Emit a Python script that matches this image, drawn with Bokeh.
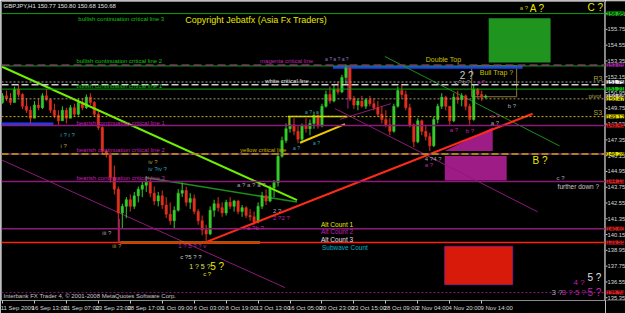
from bokeh.plotting import figure
from bokeh.layouts import row
from bokeh.models import Range1d, FixedTicker, Span, Label, ColumnDataSource
from bokeh.embed import file_html
from bokeh.resources import INLINE

# ---------------- data ----------------
bar_index = list(range(122))
opens = [150.2, 150.7, 150.5, 150.2, 151.2, 150.8, 149.9, 149.6, 149.0, 150.0,
         149.8, 150.7, 150.4, 149.6, 149.2, 148.8, 149.6, 149.0, 149.8, 149.3,
         150.2, 149.8, 150.6, 150.2, 149.3, 148.3, 146.5, 146.3, 144.5, 143.6,
         141.8, 142.3, 142.8, 142.3, 143.1, 143.6, 143.9, 144.2, 143.3, 142.7,
         143.1, 142.4, 141.7, 141.2, 142.0, 143.3, 143.5, 142.6, 142.9, 141.9,
         141.2, 140.5, 140.2, 142.0, 142.5, 142.2, 141.8, 142.6, 142.3, 142.7,
         141.9, 142.2, 141.6, 141.5, 141.1, 142.3, 143.1, 142.7, 143.7, 144.1,
         146.1, 147.3, 148.2, 148.5, 148.0, 147.4, 148.4, 148.2, 148.6, 149.2,
         148.4, 149.9, 150.8, 150.3, 151.2, 151.0, 152.1, 152.8, 150.5, 150.0,
         150.3, 149.9, 150.4, 150.1, 149.8, 149.3, 148.9, 148.5, 148.0, 149.9,
         151.1, 150.8, 149.8, 148.5, 147.2, 148.8, 148.0, 147.6, 146.9, 148.9,
         149.9, 150.6, 149.9, 148.8, 150.6, 150.4, 150.7, 149.9, 148.9, 151.2,
         150.8, 150.6]
highs = [150.9, 151.1, 150.9, 151.4, 151.6, 150.9, 150.5, 149.9, 150.3, 150.5,
         150.9, 151.2, 150.5, 150.1, 149.6, 149.9, 149.8, 150.0, 150.1, 150.5,
         150.5, 150.8, 150.9, 150.3, 149.6, 148.4, 146.6, 146.4, 145.4, 143.8,
         142.5, 143.0, 143.2, 143.4, 143.8, 144.2, 144.6, 144.4, 143.8, 143.4,
         143.5, 143.0, 142.6, 142.3, 143.6, 144.1, 143.8, 143.3, 143.2, 142.1,
         141.6, 140.9, 142.3, 142.8, 143.0, 142.6, 142.8, 143.0, 142.8, 142.8,
         142.4, 142.3, 142.1, 141.9, 142.6, 143.4, 143.6, 143.9, 144.3, 146.4,
         147.6, 148.6, 149.1, 149.0, 148.4, 148.6, 149.0, 148.9, 149.5, 149.3,
         150.1, 151.1, 151.4, 151.6, 151.8, 152.3, 153.1, 152.9, 150.7, 150.5,
         150.7, 150.5, 150.7, 150.5, 150.3, 149.9, 149.6, 149.0, 150.1, 151.4,
         151.6, 151.1, 150.1, 148.6, 149.0, 148.9, 148.5, 147.9, 149.1, 150.1,
         150.9, 150.7, 149.9, 150.9, 151.1, 150.9, 150.8, 150.1, 151.6, 151.3,
         151.1, 150.8]
lows = [150.1, 150.3, 150.0, 150.2, 150.6, 149.7, 149.4, 148.6, 149.0, 149.6,
        149.7, 150.3, 149.4, 149.0, 148.5, 148.8, 148.6, 149.0, 149.1, 149.2,
        149.6, 149.7, 150.0, 149.1, 148.1, 146.2, 146.0, 144.1, 143.2, 139.6,
        140.6, 141.4, 141.9, 142.1, 142.6, 143.0, 143.4, 143.0, 142.4, 142.3,
        142.1, 141.4, 140.9, 140.6, 141.9, 143.0, 142.3, 142.1, 141.7, 140.9,
        140.1, 139.6, 140.1, 141.5, 141.9, 141.5, 141.6, 142.1, 141.9, 141.7,
        141.5, 141.4, 141.2, 140.9, 141.0, 142.1, 142.4, 142.6, 143.0, 143.8,
        146.0, 147.1, 147.9, 147.7, 147.1, 147.1, 147.9, 147.7, 148.2, 148.2,
        148.3, 149.8, 150.1, 150.2, 150.8, 150.9, 151.6, 150.3, 149.7, 149.6,
        149.8, 149.7, 149.9, 149.6, 149.1, 148.6, 148.3, 147.7, 147.9, 149.8,
        150.5, 149.6, 148.3, 146.8, 147.1, 147.7, 147.3, 146.5, 146.8, 148.6,
        149.7, 149.6, 148.5, 148.7, 150.1, 149.9, 149.6, 148.5, 148.8, 150.5,
        150.3, 150.5]
closes = [150.7, 150.5, 150.2, 151.2, 150.8, 149.9, 149.6, 149.0, 150.0, 149.8,
          150.7, 150.4, 149.6, 149.2, 148.8, 149.6, 149.0, 149.8, 149.3, 150.2,
          149.8, 150.6, 150.2, 149.3, 148.3, 146.5, 146.3, 144.5, 143.6, 141.8,
          142.3, 142.8, 142.3, 143.1, 143.6, 143.9, 144.2, 143.3, 142.7, 143.1,
          142.4, 141.7, 141.2, 142.0, 143.3, 143.5, 142.6, 142.9, 141.9, 141.2,
          140.5, 140.2, 142.0, 142.5, 142.2, 141.8, 142.6, 142.3, 142.7, 141.9,
          142.2, 141.6, 141.5, 141.1, 142.3, 143.1, 142.7, 143.7, 144.1, 146.1,
          147.3, 148.2, 148.5, 148.0, 147.4, 148.4, 148.2, 148.6, 149.2, 148.4,
          149.9, 150.8, 150.3, 151.2, 151.0, 152.1, 152.8, 150.5, 150.0, 150.3,
          149.9, 150.4, 150.1, 149.8, 149.3, 148.9, 148.5, 148.0, 149.9, 151.1,
          150.8, 149.8, 148.5, 147.2, 148.8, 148.0, 147.6, 146.9, 148.9, 149.9,
          150.6, 149.9, 148.8, 150.6, 150.4, 150.7, 149.9, 148.9, 151.2, 150.8,
          150.6, 150.68]

time_tick_bars = [0, 8, 16, 24, 32, 40, 48, 56, 64, 72, 80, 88, 96, 104, 112, 120]
time_tick_labels = ["11 Sep 2009", "16 Sep 13:00", "21 Sep 07:00", "23 Sep 23:00",
                    "28 Sep 17:00", "1 Oct 09:00", "6 Oct 03:00", "8 Oct 19:00",
                    "13 Oct 13:00", "16 Oct 05:00", "20 Oct 23:00", "23 Oct 15:00",
                    "28 Oct 09:00", "2 Nov 04:00", "4 Nov 20:00", "9 Nov 14:00"]
price_ticks = [156.95, 155.75, 154.55, 153.35, 152.15, 150.95, 149.75, 148.55, 147.35,
               146.15, 144.95, 143.75, 142.55, 141.35, 140.15, 138.95, 137.75, 136.55, 135.35]

# horizontal levels (price)
bull_line_3 = 156.95
magenta_line = 153.05
bull_line_2 = 152.97
r3_level = 151.75
white_line = 151.55
bull_line_1 = 151.21
pivot_level = 150.47
s3_level = 149.12
bear_line_1 = 148.45
yellow_line = 146.28
bear_line_3 = 144.19
alt_line = 140.60
red_line = 139.55
bottom_line = 135.74
last_price = 150.68

# trendlines (bar index, price)
lime_trend_x = [-0.25, 73.75]; lime_trend_p = [152.93, 142.77]
green_low_x = [35.75, 73.75]; green_low_p = [144.49, 142.62]
green_top_x = [95.75, 139.5]; green_top_p = [153.69, 146.89]
red_trend_x = [51.25, 132.75]; red_trend_p = [139.62, 149.34]
purple_a_x = [-0.25, 70.75]; purple_a_p = [145.83, 136.12]
purple_b_x = [83.25, 134.0]; purple_b_p = [149.73, 141.88]
purple_c_x = [84.5, 97.25]; purple_c_p = [148.91, 150.10]
mag_vert_x = [86.5, 86.5]; mag_vert_p = [153.05, 149.73]
mag_vert2_x = [29.25, 29.25]; mag_vert2_p = [141.36, 139.55]
yel_flat_x = [71.5, 86.25]; yel_flat_p = [149.12, 149.12]
yel_vert_x = [71.75, 71.75]; yel_vert_p = [149.12, 148.45]
yel_rise_x = [74.5, 85.75]; yel_rise_p = [147.13, 148.55]
yel_low_x = [29.5, 64.5]; yel_low_p = [139.55, 139.55]

# zones (bar index / price)
green_zone = dict(left=121.75, right=137.25, top=156.59, bottom=153.23)
trap_zone = dict(left=117.5, right=128.75, top=152.99, bottom=150.63)
magenta_zone = dict(left=110.75, right=126.25, top=146.13, bottom=144.26)
red_zone = dict(left=110.75, right=127.75, top=139.26, bottom=136.35)
tri_x = [110.75, 122.75, 122.75]; tri_p = [146.51, 148.30, 146.51]
blue_top = dict(left=82.75, right=130.25, top=152.97, bottom=152.75)
blue_left = dict(left=-0.25, right=12.75, top=148.67, bottom=148.43)

# ---------------- main chart ----------------
X0, X1 = -0.25, 151.0
FONT = "Liberation Sans"
p = figure(width=605, height=313, output_backend="svg", toolbar_location=None,
           x_range=Range1d(X0, X1), y_range=Range1d(135.14, 157.87),
           y_axis_location=None, x_axis_location="below",
           min_border_left=1, min_border_top=1, min_border_right=0, min_border_bottom=0,
           background_fill_color="black", border_fill_color="black",
           outline_line_color="#8c8c8c")
p.grid.visible = False


def style_time_axis(ax, ticks, labels, color):
    ax.ticker = FixedTicker(ticks=[b + 3.75 for b in ticks], minor_ticks=list(ticks))
    ax.major_label_overrides = {b + 3.75: t for b, t in zip(ticks, labels)}
    ax.major_tick_out = 0
    ax.major_tick_in = 0
    ax.minor_tick_out = 3
    ax.minor_tick_in = 0
    ax.major_label_text_font_size = "6px"
    ax.major_label_text_font = FONT
    ax.major_label_standoff = 1
    ax.major_label_text_color = color


xa = p.xaxis[0]
style_time_axis(xa, time_tick_bars, time_tick_labels, "#d8d8d8")
xa.minor_tick_line_color = "#c8c8c8"
xa.axis_line_color = "#8c8c8c"

# zones
p.quad(left=[green_zone["left"]], right=[green_zone["right"]], top=[green_zone["top"]],
       bottom=[green_zone["bottom"]], fill_color="#1f941f", line_color=None)
p.quad(left=[magenta_zone["left"]], right=[magenta_zone["right"]], top=[magenta_zone["top"]],
       bottom=[magenta_zone["bottom"]], fill_color="#9e1c86", line_color=None)
p.patch(tri_x, tri_p, fill_color="#9e1c86", line_color=None)
p.quad(left=[red_zone["left"]], right=[red_zone["right"]], top=[red_zone["top"]],
       bottom=[red_zone["bottom"]], fill_color="#d81a0a", line_color="#8b1a7a", line_width=1)
p.quad(left=[trap_zone["left"]], right=[trap_zone["right"]], top=[trap_zone["top"]],
       bottom=[trap_zone["bottom"]], fill_color=None, line_color="#8a7a34", line_width=1)


def hline(v, color, width=1, dash="solid"):
    p.add_layout(Span(location=v, dimension="width", line_color=color,
                      line_width=width, line_dash=dash))


hline(bull_line_3, "#10a010")
hline(magenta_line, "#9b1b8b", 1.5, "8 4")
hline(bull_line_2, "#10a010")
hline(r3_level, "#a8a8a8", 1, "2 2")
hline(white_line, "#d0d0d0", 1.5, "7 3")
hline(bull_line_1, "#10a010")
hline(pivot_level, "#a09a60", 1, "2 2")
hline(s3_level, "#c8b400", 1, "2 2")
hline(bear_line_1, "#8b1a7a", 1.5)
hline(yellow_line, "#8b1a7a", 1.5)
hline(yellow_line, "#c0a800", 1.5, "7 3")
hline(bear_line_3, "#8b1a7a", 1.5)
hline(alt_line, "#8b1a7a", 1.5)
hline(red_line, "#ff2010", 1.5)
hline(bottom_line, "#8b1a7a", 1, "2 2")

for z in (blue_top, blue_left):
    p.quad(left=[z["left"]], right=[z["right"]], top=[z["top"]], bottom=[z["bottom"]],
           fill_color="#1e3cf0", line_color=None)

p.line(purple_a_x, purple_a_p, line_color="#8b1a7a", line_width=1)
p.line(purple_b_x, purple_b_p, line_color="#8b1a7a", line_width=1)
p.line(purple_c_x, purple_c_p, line_color="#8b1a7a", line_width=1)
p.line(mag_vert_x, mag_vert_p, line_color="#b01aa0", line_width=1)
p.line(mag_vert2_x, mag_vert2_p, line_color="#b01aa0", line_width=1)
p.line(green_low_x, green_low_p, line_color="#1c8c1c", line_width=1.5)
p.line(green_top_x, green_top_p, line_color="#1c8c1c", line_width=1)
p.line(yel_low_x, yel_low_p, line_color="#e8e800", line_width=2)

# candles
UP, DOWN = "#34cc2a", "#e0301e"
colors = [UP if c >= o else DOWN for o, c in zip(opens, closes)]
src = ColumnDataSource(dict(x=bar_index, h=highs, l=lows,
                            top=[max(o, c) for o, c in zip(opens, closes)],
                            bottom=[min(o, c) for o, c in zip(opens, closes)],
                            color=colors))
p.segment(x0="x", y0="h", x1="x", y1="l", line_color="color", line_width=1, source=src)
p.vbar(x="x", width=0.6, top="top", bottom="bottom", fill_color="color",
       line_color="color", line_width=0.5, source=src)

p.line(lime_trend_x, lime_trend_p, line_color="#70f000", line_width=2)
p.line(red_trend_x, red_trend_p, line_color="#ff2a1a", line_width=2)
p.line(yel_flat_x, yel_flat_p, line_color="#e8e800", line_width=1.5)
p.line(yel_vert_x, yel_vert_p, line_color="#e8e800", line_width=1)
p.line(yel_rise_x, yel_rise_p, line_color="#f0c800", line_width=2)

# texts
G, M, W, Y, O, GR, C = "#10c010", "#c020b0", "#e0e0e0", "#e8e800", "#b0a040", "#a8a8a8", "#30a8c0"
texts = [
    (0.25, 157.56, "GBPJPY,H1  150.77 150.80 150.68 150.68", W, "6px"),
    (45.75, 156.45, "Copyright Jebatfx (Asia Fx Traders)", Y, "9px"),
    (19.0, 156.52, "bullish continuation critical line 3", G, "6px"),
    (18.5, 153.31, "bullish continuation critical line 2", G, "6px"),
    (18.5, 151.44, "bullish continuation critical line 1", G, "6px"),
    (18.5, 148.67, "bearish continuation critical line 1", M, "6px"),
    (18.5, 146.58, "bearish continuation critical line 2", M, "6px"),
    (18.5, 144.49, "bearish continuation critical line 3", M, "6px"),
    (64.5, 153.31, "magenta critical line", M, "6px"),
    (65.75, 151.81, "white critical line", W, "6px"),
    (59.5, 146.58, "yellow critical line", "#c8b400", "6px"),
    (80.75, 153.53, "a ? a ? a ?", "#a070c0", "5px"),
    (106.0, 153.46, "Double Top", "#c8c000", "7px"),
    (119.5, 152.48, "Bull Trap ?", "#c8c000", "7px"),
    (148.0, 152.04, "R3", O, "7px"),
    (146.75, 150.69, "pivot", O, "6px"),
    (148.0, 149.42, "S3", O, "7px"),
    (114.5, 152.26, "2 ?", "#c8c8c8", "10px"),
    (113.25, 151.74, "c ? b ?", GR, "5px"),
    (119.0, 151.74, "a ?", M, "5px"),
    (126.5, 149.94, "b ?", GR, "6px"),
    (122.25, 149.20, "a ?", M, "6px"),
    (122.25, 148.60, "a ?", GR, "6px"),
    (112.0, 148.07, "a ?", M, "6px"),
    (116.0, 147.99, "b ?", M, "6px"),
    (105.75, 145.91, "4 ?4 ?", GR, "6px"),
    (105.75, 145.46, "a ?", M, "6px"),
    (132.75, 145.76, "B ?", Y, "10px"),
    (138.75, 144.49, "c ?", GR, "6px"),
    (139.0, 143.81, "further down ?", "#c8c8c8", "6.5px"),
    (129.5, 157.34, "a ?", "#c0c000", "6px"),
    (132.0, 157.34, "A ?", Y, "10px"),
    (146.5, 157.41, "C ?", Y, "10px"),
    (79.75, 140.90, "Alt Count 1", Y, "6.5px"),
    (79.75, 140.37, "Alt Count 2", M, "6.5px"),
    (79.75, 139.78, "Alt Count 3", W, "6.5px"),
    (80.0, 139.18, "Subwave Count", "#00b0c8", "6.5px"),
    (143.0, 136.49, "4 ?", M, "8px"),
    (146.5, 136.86, "5 ?", W, "10px"),
    (137.5, 135.74, "3 ?", GR, "8px"),
    (140.0, 135.74, "3 ? 5 ?", M, "8px"),
    (146.5, 135.74, "5 ?", M, "10px"),
    (14.5, 147.70, "i ? i ?", C, "6px"),
    (14.5, 146.88, "i ?", O, "6px"),
    (36.5, 145.68, "iv ?", O, "6px"),
    (36.5, 145.16, "iv ?iv ?", C, "6px"),
    (25.0, 140.30, "iii ?", GR, "6px"),
    (27.5, 139.25, "iii ?", O, "6px"),
    (44.0, 139.25, "1 ? 5 ? ? v", M, "6px"),
    (44.5, 138.43, "c ?5 ? ?", "#c8c8c8", "6px"),
    (46.75, 137.69, "1 ? 5 ?", "#e0e060", "7px"),
    (50.25, 137.16, "c ?", Y, "6px"),
    (52.0, 137.69, "5 ?", Y, "10px"),
    (58.75, 143.89, "a ? a ? a ?", GR, "6px"),
    (67.75, 141.94, "2 ?", GR, "6px"),
    (67.75, 141.42, "2 ?2 ?", M, "6px"),
    (61.25, 140.68, "a ?b ?", M, "6px"),
    (75.75, 149.49, "a ?", C, "5px"),
    (78.5, 149.49, "a ?", C, "5px"),
    (72.75, 146.73, "a ?", C, "5px"),
    (77.75, 147.10, "a ?", C, "5px"),
    (0.25, 135.50, "Interbank FX Trader 4, \u00a9 2001-2008 MetaQuotes Software Corp.", "#c8c8c8", "6px"),
]
for x, y, t, col, size in texts:
    p.add_layout(Label(x=x, y=y, text=t, text_color=col, text_font_size=size,
                       text_font=FONT, text_baseline="middle", text_align="left"))

# ---------------- price scale strip (shares the price range) ----------------
s = figure(width=20, height=313, output_backend="svg", toolbar_location=None,
           x_range=Range1d(0, 20), y_range=p.y_range,
           y_axis_location=None, x_axis_location="below",
           min_border_left=0, min_border_top=1, min_border_right=0, min_border_bottom=0,
           background_fill_color="black", border_fill_color="black", outline_line_color=None)
s.grid.visible = False
sa = s.xaxis[0]
style_time_axis(sa, [0], ["0"], "black")
sa.axis_line_color = None
sa.minor_tick_line_color = None

s.segment(x0=[0] * len(price_ticks), x1=[2] * len(price_ticks), y0=price_ticks, y1=price_ticks,
          line_color="#c8c8c8", line_width=1)
for v in price_ticks:
    s.add_layout(Label(x=0, y=v, x_offset=2, text=f"{v:.2f}", text_color="#d8d8d8",
                       text_font_size="5.8px", text_font=FONT, text_baseline="middle"))

markers = [(bull_line_3, "#10c010"), (magenta_line, "#a020a0"), (r3_level, "#f0f0f0"),
           (bull_line_1, "#10c010"), (last_price, "#c8c8c8"), (pivot_level, "#e8e000"),
           (s3_level, "#e8e000"), (bear_line_1, "#e02020"), (yellow_line, "#e8e000"),
           (bear_line_3, "#e02020"), (alt_line, "#e02020"), (red_line, "#e02020"),
           (bottom_line, "#e02020")]
for v, col in markers:
    s.add_layout(Label(x=0, y=v, x_offset=1, text=f"{v:.2f}", text_color="black",
                       text_font_size="5.8px", text_font=FONT, text_baseline="middle",
                       background_fill_color=col))

layout = row(p, s)
open("out.html", "w").write(file_html(layout, INLINE))
